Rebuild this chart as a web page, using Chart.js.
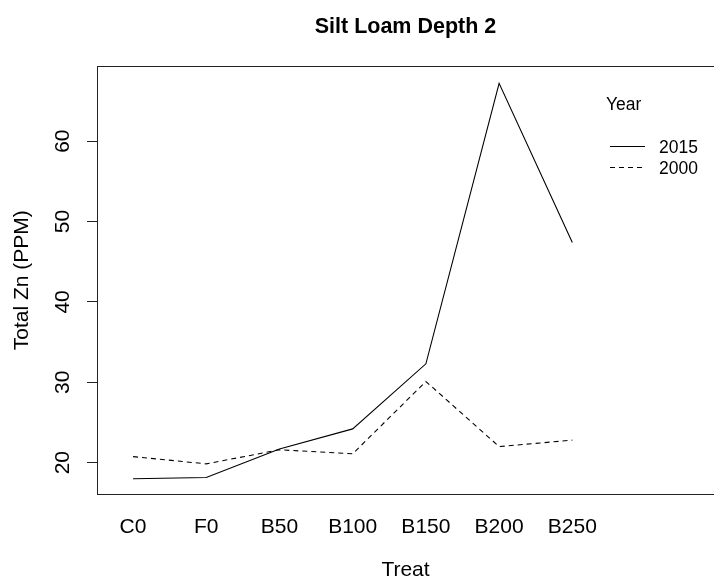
<!DOCTYPE html>
<html>
<head>
<meta charset="utf-8">
<script src="https://cdn.jsdelivr.net/npm/chart.js@4.4.1/dist/chart.umd.min.js"></script>
<style>
  html, body { margin: 0; padding: 0; background: #fff; overflow: hidden; }
  #wrap { width: 714px; height: 584px; }
</style>
</head>
<body>
<div id="wrap"><canvas id="zn-chart" width="714" height="584"></canvas></div>
<script>
// data
const treat = ['C0', 'F0', 'B50', 'B100', 'B150', 'B200', 'B250'];
const years = ['2015', '2000'];
const zn2015 = [18.0, 18.15, 21.7, 24.2, 32.3, 67.2, 47.4];
const zn2000 = [20.75, 19.85, 21.6, 21.1, 30.1, 22.0, 22.8];
const yTicks = [20, 30, 40, 50, 60];

Chart.defaults.font.family = "'Liberation Sans', Arial, sans-serif";
Chart.defaults.color = '#000';

// R-style box, rotated y tick labels and the legend in the top right
const rPlotExtras = {
    id: 'rPlotExtras',
    afterDraw(chart) {
        const ctx = chart.ctx;
        const area = chart.chartArea;
        ctx.save();

        // box around plot region
        ctx.strokeStyle = '#222';
        ctx.lineWidth = 1;
        ctx.strokeRect(Math.round(area.left) + 0.5, Math.round(area.top) + 0.5,
            area.right - area.left + 10, Math.round(area.bottom - area.top));

        // y tick labels, turned like R's las = 0
        const yScale = chart.scales.y;
        ctx.fillStyle = '#000';
        ctx.font = "21px 'Liberation Sans', Arial, sans-serif";
        ctx.textAlign = 'center';
        ctx.textBaseline = 'middle';
        yScale.ticks.forEach(t => {
            const y = yScale.getPixelForValue(t.value);
            ctx.save();
            ctx.translate(63.5, y);
            ctx.rotate(-Math.PI / 2);
            ctx.fillText(String(t.value), 0, 0);
            ctx.restore();
        });

        // legend
        ctx.textAlign = 'left';
        ctx.font = "17.5px 'Liberation Sans', Arial, sans-serif";
        ctx.fillText('Year', 606, 105);
        chart.data.datasets.forEach((ds, i) => {
            const y = 147 + i * 21;
            ctx.beginPath();
            ctx.strokeStyle = ds.borderColor;
            ctx.lineWidth = 1;
            ctx.setLineDash(ds.borderDash || []);
            ctx.moveTo(610, y - 0.5);
            ctx.lineTo(645, y - 0.5);
            ctx.stroke();
            ctx.setLineDash([]);
            ctx.fillText(ds.label, 659, y + 1);
        });
        ctx.restore();
    }
};

const ctx = document.getElementById('zn-chart').getContext('2d');
new Chart(ctx, {
    type: 'line',
    data: {
        datasets: [
            {
                label: years[0],
                data: zn2015.map((v, i) => ({ x: i + 1, y: v })),
                borderColor: '#000',
                borderWidth: 1.1,
                pointRadius: 0,
                tension: 0
            },
            {
                label: years[1],
                data: zn2000.map((v, i) => ({ x: i + 1, y: v })),
                borderColor: '#000',
                borderWidth: 1.1,
                borderDash: [5, 4],
                pointRadius: 0,
                tension: 0
            }
        ]
    },
    options: {
        responsive: false,
        animation: false,
        layout: { padding: 0 },
        plugins: {
            legend: { display: false },
            tooltip: { enabled: false },
            title: {
                display: true,
                fullSize: false,
                text: 'Silt Loam Depth 2',
                color: '#000',
                font: { size: 21.5, weight: 'bold' },
                padding: { top: 14.5, bottom: 26.1 }
            }
        },
        scales: {
            x: {
                type: 'linear',
                min: 0.508,
                max: 8.935,
                afterBuildTicks: (scale) => {
                    scale.ticks = treat.map((_, i) => ({ value: i + 1 }));
                },
                afterFit: (scale) => { scale.height = 90; },
                grid: { display: false, drawTicks: false },
                border: { display: false },
                ticks: {
                    autoSkip: false,
                    maxRotation: 0,
                    minRotation: 0,
                    padding: 20.5,
                    font: { size: 21 },
                    color: '#000',
                    callback: (v) => treat[v - 1]
                },
                title: {
                    display: true,
                    text: 'Treat',
                    color: '#000',
                    font: { size: 21 },
                    padding: { top: 0, bottom: 1 }
                }
            },
            y: {
                min: 16.1,
                max: 69.3,
                afterBuildTicks: (scale) => {
                    scale.ticks = yTicks.map(v => ({ value: v }));
                },
                afterFit: (scale) => { scale.width = 97; },
                grid: {
                    drawOnChartArea: false,
                    drawTicks: true,
                    tickLength: 10,
                    color: '#222'
                },
                border: { display: false },
                ticks: { display: false },
                title: {
                    display: true,
                    text: 'Total Zn (PPM)',
                    color: '#000',
                    font: { size: 21 },
                    padding: { top: 10, bottom: 0 }
                }
            }
        }
    },
    plugins: [rPlotExtras]
});
</script>
</body>
</html>
